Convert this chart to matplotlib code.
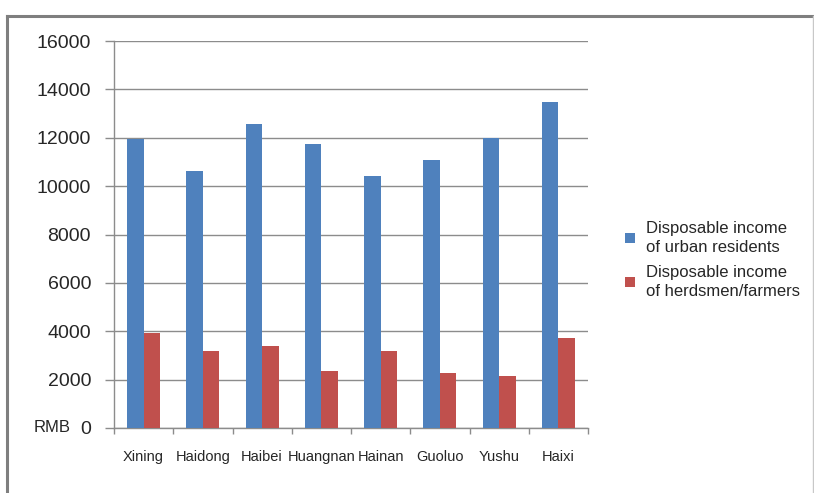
import matplotlib
matplotlib.use("Agg")
import matplotlib.pyplot as plt
from matplotlib.lines import Line2D
from matplotlib.patches import Patch
import numpy as np

plt.rcParams['font.family'] = ['Liberation Sans', 'DejaVu Sans']

regions = ["Xining", "Haidong", "Haibei", "Huangnan", "Hainan", "Guoluo", "Yushu", "Haixi"]
urban_income = [11950, 10640, 12550, 11750, 10400, 11080, 12000, 13490]
herdsmen_income = [3910, 3200, 3380, 2360, 3200, 2260, 2160, 3730]
y_ticks = [0, 2000, 4000, 6000, 8000, 10000, 12000, 14000, 16000]
series_labels = ["Disposable income\nof urban residents",
                 "Disposable income\nof herdsmen/farmers"]

BLUE = "#4F81BD"
RED = "#C0504D"
GRID = "#8C8C8C"
TEXT = "#262626"

W, H = 814, 493
fig = plt.figure(figsize=(W / 100, H / 100), dpi=100)
fig.patch.set_facecolor("white")

# outer chart frame (open at the bottom)
frame_kw = dict(color="#7F7F7F", linewidth=2.2, transform=fig.transFigure)
fig.add_artist(Line2D([7 / W, 7 / W], [0, 1 - 16 / H], **frame_kw))
fig.add_artist(Line2D([7 / W, 813 / W], [1 - 16 / H, 1 - 16 / H], **frame_kw))
fig.add_artist(Line2D([813 / W, 813 / W], [0, 1 - 16 / H], color="#C8C8C8",
                      linewidth=1.0, transform=fig.transFigure))

left, right, top, bottom = 114, 588, 41, 428
ax = fig.add_axes([left / W, 1 - bottom / H, (right - left) / W, (bottom - top) / H])

x = np.arange(len(regions))
bw = 0.28
ax.bar(x - bw / 2, urban_income, width=bw, color=BLUE, zorder=3)
ax.bar(x + bw / 2, herdsmen_income, width=bw, color=RED, zorder=3)

ax.set_xlim(-0.5, len(regions) - 0.5)
ax.set_ylim(0, 16000)
ax.set_yticks(y_ticks)
ax.set_yticklabels([str(v) for v in y_ticks], fontsize=14, color=TEXT)
ax.yaxis.grid(True, color=GRID, linewidth=1.0, zorder=0)
ax.set_axisbelow(True)

ax.set_xticks(x)
ax.set_xticklabels(regions, fontsize=10.5, color=TEXT)
ax.set_xticks(np.arange(len(regions) + 1) - 0.5, minor=True)
ax.tick_params(axis="x", which="major", length=0, pad=16)
ax.tick_params(axis="x", which="minor", length=4.5, color=GRID, width=1.0)
ax.tick_params(axis="y", length=6.5, color=GRID, width=1.0, pad=10)

for side in ("top", "right"):
    ax.spines[side].set_visible(False)
for side in ("left", "bottom"):
    ax.spines[side].set_color(GRID)
    ax.spines[side].set_linewidth(1.0)

fig.text(52 / W, 1 - 427 / H, "RMB", fontsize=12, color=TEXT,
         ha="center", va="center")

handles = [Patch(facecolor=BLUE, edgecolor="none"),
           Patch(facecolor=RED, edgecolor="none")]
leg = fig.legend(handles, series_labels, loc="center left",
                 bbox_to_anchor=(610 / W, 1 - 260 / H), frameon=False,
                 fontsize=12, handlelength=0.6, handleheight=0.6,
                 handletextpad=0.65, labelspacing=0.55, labelcolor=TEXT)
for t in leg.get_texts():
    t.set_linespacing(1.4)

fig.savefig("out.png", dpi=100)
